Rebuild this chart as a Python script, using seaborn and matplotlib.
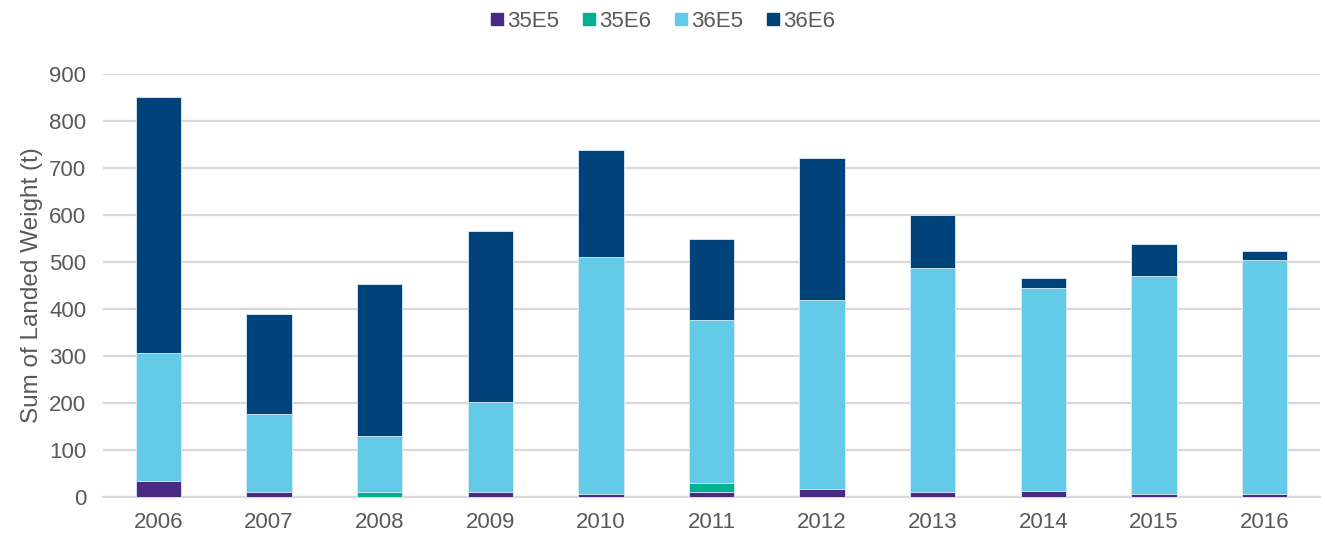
import matplotlib
matplotlib.use("Agg")
import matplotlib.pyplot as plt
from matplotlib.lines import Line2D
import seaborn as sns
import pandas as pd
import numpy as np

# %% data
years = ["2006", "2007", "2008", "2009", "2010", "2011", "2012", "2013", "2014", "2015", "2016"]
s35E5 = [34, 9, 0, 9, 5, 9, 16, 9, 13, 5, 5]
s35E6 = [0, 0, 9, 0, 0, 21, 0, 0, 0, 0, 0]
s36E5 = [271, 167, 121, 192, 506, 347, 403, 477, 432, 465, 498]
s36E6 = [546, 214, 322, 364, 227, 172, 302, 113, 20, 67, 20]
series = ["35E5", "35E6", "36E5", "36E6"]
colors = {"35E5": "#4B2A85", "35E6": "#00B294", "36E5": "#63CBE8", "36E6": "#00437A"}
yticks = [0, 100, 200, 300, 400, 500, 600, 700, 800, 900]

df = pd.DataFrame({"year": years, "35E5": s35E5, "35E6": s35E6, "36E5": s36E5, "36E6": s36E6})
# cumulative heights, drawn from the top segment down
cum = df[series].cumsum(axis=1)
cum["year"] = df["year"]

# %% plot
sns.set_theme(style="white")
plt.rcParams["font.family"] = ["Liberation Sans", "DejaVu Sans"]
grey = "#595959"

fig = plt.figure(figsize=(13.25, 5.39), dpi=100)
ax = fig.add_axes([0.0777, 0.0785, 0.9185, 0.7842])

for s in series[::-1]:
    sns.barplot(data=cum, x="year", y=s, color=colors[s], width=0.41,
                edgecolor="#DDEEF7", linewidth=0.6, saturation=1, ax=ax, zorder=3)

ax.set_ylim(0, 900)
ax.set_xlim(-0.5, len(years) - 0.5)
ax.set_yticks(yticks)
ax.yaxis.grid(True, color="#D9D9D9", linewidth=1.6, zorder=0)
ax.set_axisbelow(True)
for side in ["top", "right", "left"]:
    ax.spines[side].set_visible(False)
ax.spines["bottom"].set_color("#D9D9D9")
ax.spines["bottom"].set_linewidth(1.6)
ax.tick_params(axis="y", length=0, labelsize=16, colors=grey, pad=12)
ax.tick_params(axis="x", length=0, labelsize=16, colors=grey, pad=11)
ax.set_xlabel("")
ax.set_ylabel("Sum of Landed Weight (t)", fontsize=17.5, color=grey, labelpad=4)

handles = [Line2D([], [], marker="s", linestyle="", markersize=8,
                  markerfacecolor=colors[s], markeredgecolor=colors[s]) for s in series]
fig.legend(handles, series, loc="center", bbox_to_anchor=(0.5, 0.96), ncol=4,
           frameon=False, fontsize=16, handlelength=0.6, handletextpad=0.15,
           columnspacing=1.05, labelcolor=grey)

fig.savefig("out.png", dpi=100)
